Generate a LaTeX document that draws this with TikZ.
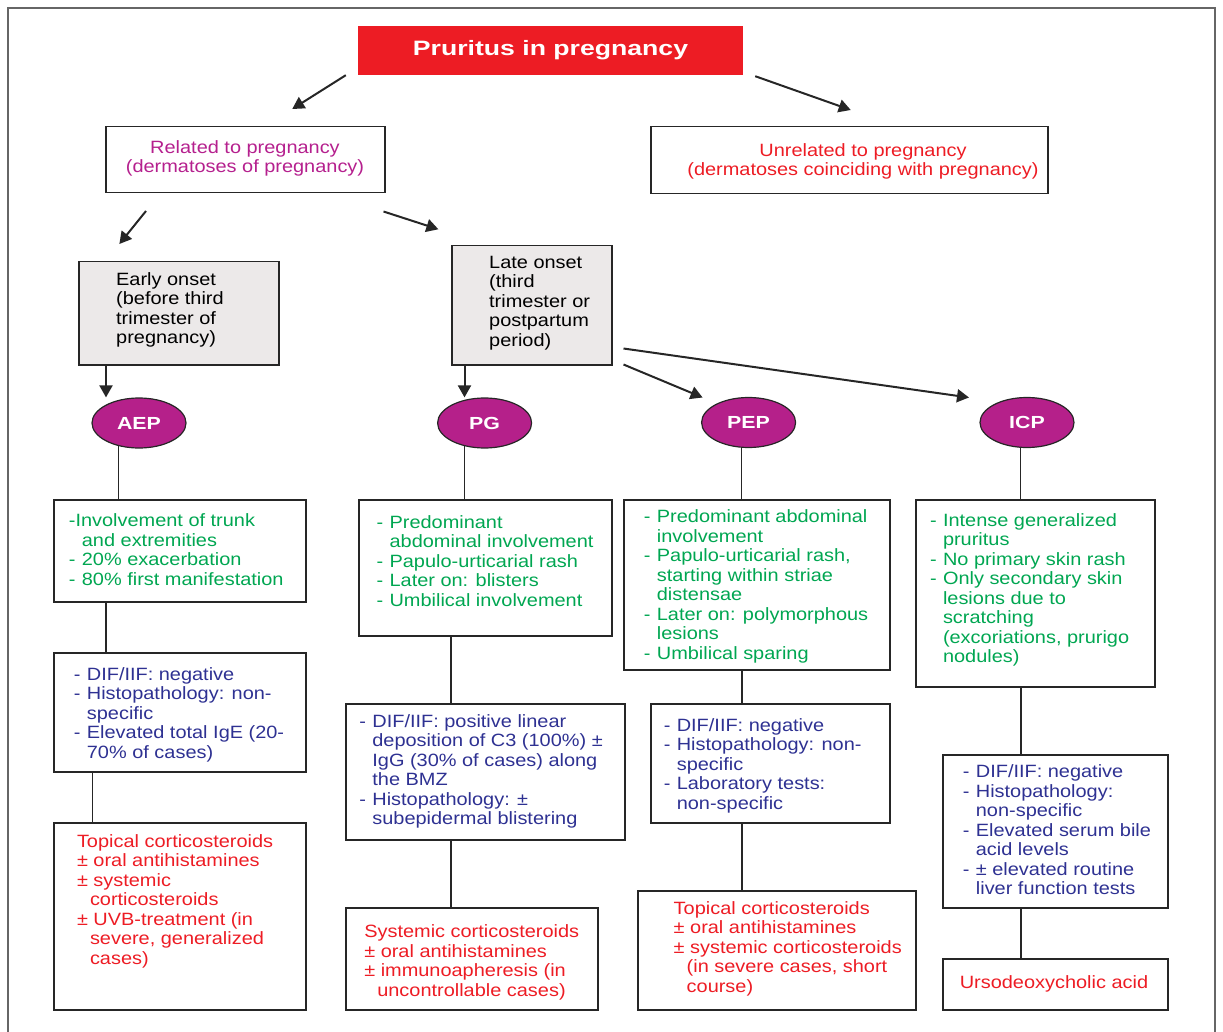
\documentclass[tikz,border=0pt]{standalone}
\usepackage{fontspec}
\setmainfont{Liberation Sans}[FakeStretch=1.12]
\newfontfamily\titlefont{Liberation Sans}[FakeStretch=1.28]
\newfontfamily\dxfont{Liberation Sans}[FakeStretch=1.22]
\usetikzlibrary{arrows.meta,shapes.geometric}

\definecolor{prured}{HTML}{ED1C24}
\definecolor{relmag}{HTML}{B5208E}
\definecolor{dxpurple}{HTML}{B5208A}
\definecolor{signgreen}{HTML}{00A651}
\definecolor{testblue}{HTML}{2E3192}
\definecolor{onsetgray}{HTML}{ECE9E9}

\newcommand{\dsh}{\makebox[13pt][l]{-}}
\newcommand{\ind}{\hspace*{13pt}}

\begin{document}
\begin{tikzpicture}[x=1pt,y=-1pt,
  box/.style={draw=black!85, line width=1.5pt, inner sep=0pt, anchor=north west},
  onset/.style={box, fill=onsetgray},
  dx/.style={ellipse, draw=black!85, line width=1.2pt, fill=dxpurple, inner sep=0pt,
    minimum width=94pt, minimum height=50pt, text=white,
    font=\dxfont\bfseries\fontsize{17.5}{17.5}\selectfont},
  txt/.style={inner sep=0pt, anchor=north west, align=left,
    font=\fontsize{17.8}{19.5}\selectfont},
  arr/.style={draw=black!85, line width=2pt, -{Triangle[length=12pt,width=13pt]}},
  link/.style={draw=black!85, line width=1.3pt}]

\useasboundingbox (0,0) rectangle (1223,1032);
\draw[black!60, line width=1.2pt] (8,1032) -- (8,8) -- (1215,8) -- (1215,1032);

% Title
\node[fill=prured, minimum width=385pt, minimum height=49pt, inner sep=0pt, text=white,
  font=\titlefont\bfseries\fontsize{20.8}{20.8}\selectfont] (title) at (550.5,50.5) {Pruritus in pregnancy};

% Related / unrelated
\node[box, minimum width=279pt, minimum height=66pt] (rel) at (105,126) {};
\node[txt, anchor=north, align=center, text=relmag] (relT) at (245,140)
  {Related to pregnancy\\(dermatoses of pregnancy)};
\node[box, minimum width=397pt, minimum height=67pt] (unrel) at (650,126) {};
\node[txt, anchor=north, align=center, text=prured] (unrelT) at (863,143)
  {Unrelated to pregnancy\\(dermatoses coinciding with pregnancy)};

\draw[arr] ([shift={(-12,0)}]title.south west) -- ([shift={(47,-17)}]rel.north);
\draw[arr] ([shift={(12,1)}]title.south east) -- ([shift={(1.5,-16)}]unrel.north);

% Onset
\node[onset, minimum width=200pt, minimum height=103pt] (early) at (78,261) {};
\node[txt] (earlyT) at (116,272) {Early onset\\(before third\\trimester of\\pregnancy)};
\node[onset, minimum width=160pt, minimum height=119pt] (late) at (451,245) {};
\node[txt] (lateT) at (489,255.7) {Late onset\\(third\\trimester or\\postpartum\\period)};

\draw[arr] ([shift={(41,17.5)}]rel.south west) -- ([shift={(-59.4,-17)}]early.north);
\draw[arr] ([shift={(-2,18)}]rel.south east) -- ([shift={(-12.6,-15.7)}]late.north west);

% Dermatoses
\node[dx] (AEP) at (139,423) {AEP};
\node[dx] (PG) at (484.6,423) {PG};
\node[dx] (PEP) at (748.6,422.5) {PEP};
\node[dx] (ICP) at (1027,422.5) {ICP};

\draw[arr] ([xshift=28]early.south west) -- ([xshift=28]early.south west |- AEP.north);
\draw[arr] ([xshift=13.5]late.south west) -- ([xshift=13.5]late.south west |- PG.north);
\draw[arr] ([shift={(11,-1)}]late.south east) -- ([shift={(-46,-25)}]PEP.center);
\draw[arr] ([shift={(11,-17)}]late.south east) -- ([shift={(-58,-25)}]ICP.center);

% Clinical signs
\node[box, minimum width=252pt, minimum height=102pt] (aepA) at (53,499) {};
\node[txt, text=signgreen] (aepAT) at (68.7,513.7)
  {-Involvement of trunk\\\ind and extremities\\\dsh 20\% exacerbation\\\dsh 80\% first manifestation};
\node[box, minimum width=253pt, minimum height=136pt] (pgA) at (358,499) {};
\node[txt, text=signgreen] (pgAT) at (376.4,515.3)
  {\dsh Predominant\\\ind abdominal involvement\\\dsh Papulo-urticarial rash\\\dsh Later on: blisters\\\dsh Umbilical involvement};
\node[box, minimum width=266pt, minimum height=170pt] (pepA) at (623,499) {};
\node[txt, text=signgreen] (pepAT) at (643.7,509.7)
  {\dsh Predominant abdominal\\\ind involvement\\\dsh Papulo-urticarial rash,\\\ind starting within striae\\\ind distensae\\\dsh Later on: polymorphous\\\ind lesions\\\dsh Umbilical sparing};
\node[box, minimum width=239pt, minimum height=187pt] (icpA) at (915,499) {};
\node[txt, text=signgreen] (icpAT) at (929.8,513)
  {\dsh Intense generalized\\\ind pruritus\\\dsh No primary skin rash\\\dsh Only secondary skin\\\ind lesions due to\\\ind scratching\\\ind (excoriations, prurigo\\\ind nodules)};

\draw[link] (AEP.-131) -- (AEP.-131 |- aepA.north);
\draw[link] (PG.-131) -- (PG.-131 |- pgA.north);
\draw[link] (PEP.-105) -- (PEP.-105 |- pepA.north);
\draw[link] (ICP.-104) -- (ICP.-104 |- icpA.north);

% Tests
\node[box, minimum width=252pt, minimum height=119pt] (aepB) at (53,652) {};
\node[txt, text=testblue] (aepBT) at (73.7,667)
  {\dsh DIF/IIF: negative\\\dsh Histopathology: non-\\\ind specific\\\dsh Elevated total IgE (20-\\\ind 70\% of cases)};
\node[box, minimum width=279pt, minimum height=136pt] (pgB) at (345,703) {};
\node[txt, text=testblue] (pgBT) at (359.2,714.3)
  {\dsh DIF/IIF: positive linear\\\ind deposition of C3 (100\%) ±\\\ind IgG (30\% of cases) along\\\ind the BMZ\\\dsh Histopathology: ±\\\ind subepidermal blistering};
\node[box, minimum width=239pt, minimum height=119pt] (pepB) at (650,703) {};
\node[txt, text=testblue] (pepBT) at (663.6,718)
  {\dsh DIF/IIF: negative\\\dsh Histopathology: non-\\\ind specific\\\dsh Laboratory tests:\\\ind non-specific};
\node[box, minimum width=225pt, minimum height=153pt] (icpB) at (942,754) {};
\node[txt, text=testblue] (icpBT) at (962.7,764.7)
  {\dsh DIF/IIF: negative\\\dsh Histopathology:\\\ind non-specific\\\dsh Elevated serum bile\\\ind acid levels\\\dsh ± elevated routine\\\ind liver function tests};

\draw[link] ([xshift=53]aepA.south west) -- ([xshift=53]aepA.south west |- aepB.north);
\draw[link] ([xshift=93]pgA.south west) -- ([xshift=93]pgA.south west |- pgB.north);
\draw[link] ([xshift=119]pepA.south west) -- ([xshift=119]pepA.south west |- pepB.north);
\draw[link] ([xshift=106]icpA.south west) -- ([xshift=106]icpA.south west |- icpB.north);

% Therapy
\node[box, minimum width=252pt, minimum height=187pt] (aepC) at (53,822) {};
\node[txt, text=prured] (aepCT) at (76.8,834.3)
  {Topical corticosteroids\\± oral antihistamines\\± systemic\\\ind corticosteroids\\± UVB-treatment (in\\\ind severe, generalized\\\ind cases)};
\node[box, minimum width=252pt, minimum height=102pt] (pgC) at (345,907) {};
\node[txt, text=prured] (pgCT) at (364.1,924.7)
  {Systemic corticosteroids\\± oral antihistamines\\± immunoapheresis (in\\\ind uncontrollable cases)};
\node[box, minimum width=278pt, minimum height=119pt] (pepC) at (637,890) {};
\node[txt, text=prured] (pepCT) at (673.5,901)
  {Topical corticosteroids\\± oral antihistamines\\± systemic corticosteroids\\\ind (in severe cases, short\\\ind course)};
\node[box, minimum width=225pt, minimum height=51pt] (icpC) at (942,958) {};
\node[txt, text=prured] (icpCT) at (959.6,975.3) {Ursodeoxycholic acid};

\draw[link] ([xshift=39.5]aepB.south west) -- ([xshift=39.5]aepB.south west |- aepC.north);
\draw[link] ([xshift=106]pgB.south west) -- ([xshift=106]pgB.south west |- pgC.north);
\draw[link] ([xshift=92]pepB.south west) -- ([xshift=92]pepB.south west |- pepC.north);
\draw[link] ([xshift=79]icpB.south west) -- ([xshift=79]icpB.south west |- icpC.north);

\end{tikzpicture}
\end{document}
